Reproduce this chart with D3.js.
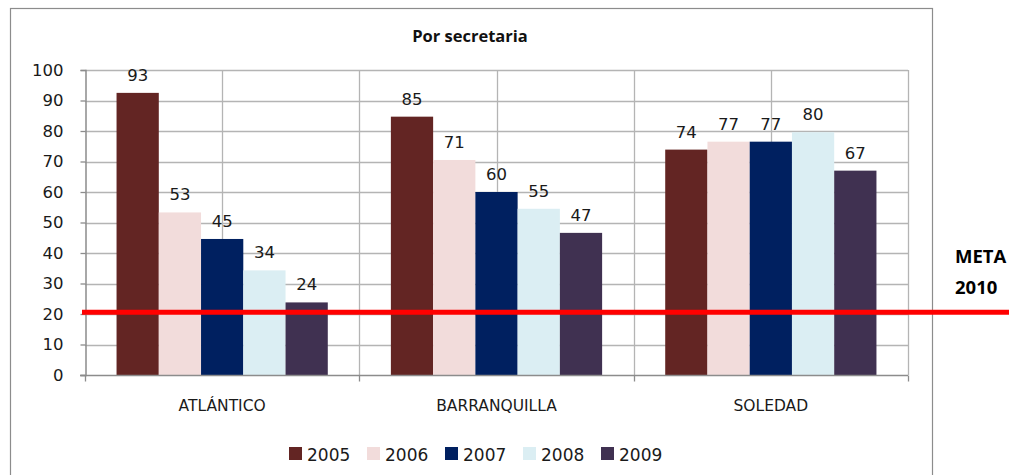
<!DOCTYPE html>
<html>
<head>
<meta charset="utf-8">
<script src="https://cdn.jsdelivr.net/npm/d3@7"></script>
<style>
  body { margin: 0; background: #fff; }
  svg { display: block; }
</style>
</head>
<body>
<svg id="canvas" width="1009" height="475"></svg>
<script>
let categories = ["ATLÁNTICO", "BARRANQUILLA", "SOLEDAD"]
let years = ["2005", "2006", "2007", "2008", "2009"]
let colors = ["#632523", "#f2dcdb", "#002060", "#dbeef3", "#403151"]

// one array per year, values for each category
let v2005 = [92.5, 84.7, 73.9]
let v2006 = [53.3, 70.5, 76.5]
let v2007 = [44.6, 60.0, 76.5]
let v2008 = [34.3, 54.5, 79.6]
let v2009 = [23.8, 46.6, 67.0]
let series = [v2005, v2006, v2007, v2008, v2009]

let yTicks = [0, 10, 20, 30, 40, 50, 60, 70, 80, 90, 100]
let meta = 20.6

let canvas = d3.select("#canvas")

let plotLeft = 85, plotRight = 908, plotTop = 70, plotBottom = 375
let numFont = "'DejaVu Sans', Verdana, sans-serif"
let boldFont = "'Open Sans', sans-serif"

// outer chart frame
canvas.append("rect")
    .attr("x", 10.5).attr("y", 8.5)
    .attr("width", 922).attr("height", 480)
    .attr("fill", "none")
    .attr("stroke", "#8c8c8c")
    .attr("stroke-width", 1.2)

canvas.append("text")
    .attr("x", 470).attr("y", 42)
    .attr("text-anchor", "middle")
    .style("font-family", boldFont)
    .style("font-weight", "700")
    .style("font-size", "16.5px")
    .attr("fill", "#111")
    .text("Por secretaria")

let x0 = d3.scaleBand().domain(categories).range([plotLeft, plotRight])
let gap = x0.bandwidth() * 0.115
let x1 = d3.scaleBand().domain(years).range([gap, x0.bandwidth() - gap])
let y = d3.scaleLinear().domain([0, 100]).range([plotBottom, plotTop])

// grid
canvas.append("g")
    .selectAll("line")
    .data(yTicks.slice(1))
    .enter()
    .append("line")
    .attr("x1", plotLeft).attr("x2", plotRight)
    .attr("y1", (d) => Math.round(y(d)) + 0.5)
    .attr("y2", (d) => Math.round(y(d)) + 0.5)
    .attr("stroke", "#b4b4b4")
    .attr("stroke-width", 1.3)

let vLines = []
categories.forEach((c) => {
    vLines.push(x0(c))
    vLines.push(x0(c) + x0.bandwidth() / 2)
})
vLines.push(plotRight)
canvas.append("g")
    .selectAll("line")
    .data(vLines.slice(1))
    .enter()
    .append("line")
    .attr("x1", (d) => Math.round(d) + 0.5).attr("x2", (d) => Math.round(d) + 0.5)
    .attr("y1", plotTop).attr("y2", plotBottom)
    .attr("stroke", "#b4b4b4")
    .attr("stroke-width", 1.3)

// bars
let groups = canvas.append("g")
    .selectAll("g")
    .data(categories)
    .enter()
    .append("g")
    .attr("transform", (d) => "translate(" + x0(d) + ",0)")

groups.selectAll("rect")
    .data((d, i) => years.map((yr, k) => ({ year: yr, value: series[k][i], color: colors[k] })))
    .enter()
    .append("rect")
    .attr("x", (d) => x1(d.year))
    .attr("width", x1.bandwidth())
    .attr("y", (d) => y(d.value))
    .attr("height", (d) => y(0) - y(d.value))
    .attr("fill", (d) => d.color)

groups.selectAll("text")
    .data((d, i) => years.map((yr, k) => ({ year: yr, value: series[k][i] })))
    .enter()
    .append("text")
    .attr("x", (d) => x1(d.year) + x1.bandwidth() / 2)
    .attr("y", (d) => y(d.value) - 12)
    .attr("text-anchor", "middle")
    .style("font-family", numFont)
    .style("font-size", "16.5px")
    .attr("fill", "#1a1a1a")
    .text((d) => Math.round(d.value))

// axes
let yAxis = d3.axisLeft(y).tickValues(yTicks).tickSize(5).tickPadding(17)
let gy = canvas.append("g")
    .attr("transform", "translate(" + (plotLeft + 0.5) + ",0)")
    .call(yAxis)
gy.select(".domain").attr("stroke", "#8c8c8c").attr("stroke-width", 1.5)
gy.selectAll(".tick line").attr("stroke", "#8c8c8c").attr("stroke-width", 1.3)
gy.selectAll(".tick text")
    .style("font-family", numFont)
    .style("font-size", "16.5px")
    .attr("fill", "#1a1a1a")

let gx = canvas.append("g")
    .attr("transform", "translate(0," + (plotBottom + 0.5) + ")")
gx.append("line")
    .attr("x1", plotLeft - 5).attr("x2", plotRight)
    .attr("stroke", "#8c8c8c").attr("stroke-width", 1.5)
gx.selectAll(".tk")
    .data(vLines.filter((d, i) => i % 2 === 0))
    .enter()
    .append("line")
    .attr("x1", (d) => Math.round(d) + 0.5).attr("x2", (d) => Math.round(d) + 0.5)
    .attr("y1", 0).attr("y2", 6)
    .attr("stroke", "#8c8c8c").attr("stroke-width", 1.3)
gx.selectAll("text")
    .data(categories)
    .enter()
    .append("text")
    .attr("x", (d) => x0(d) + x0.bandwidth() / 2)
    .attr("y", 35)
    .attr("text-anchor", "middle")
    .style("font-family", numFont)
    .style("font-size", "15.5px")
    .attr("fill", "#1a1a1a")
    .text((d) => d)

// meta line
canvas.append("line")
    .attr("x1", plotLeft - 3).attr("x2", 1009)
    .attr("y1", y(meta)).attr("y2", y(meta))
    .attr("stroke", "#ff0000")
    .attr("stroke-width", 5)

canvas.append("text")
    .attr("x", 955).attr("y", 263)
    .style("font-family", boldFont)
    .style("font-weight", "700")
    .style("font-size", "18.5px")
    .attr("fill", "#000")
    .text("META")
canvas.append("text")
    .attr("x", 955).attr("y", 294)
    .style("font-family", boldFont)
    .style("font-weight", "700")
    .style("font-size", "18.5px")
    .attr("fill", "#000")
    .text("2010")

// legend
let legend = canvas.append("g")
    .selectAll("g")
    .data(years)
    .enter()
    .append("g")
    .attr("transform", (d, i) => "translate(" + (289 + i * 78) + ",447)")
legend.append("rect")
    .attr("width", 13).attr("height", 13)
    .attr("fill", (d, i) => colors[i])
legend.append("text")
    .attr("x", 18).attr("y", 14)
    .style("font-family", numFont)
    .style("font-size", "17px")
    .attr("fill", "#1a1a1a")
    .text((d) => d)
</script>
</body>
</html>
